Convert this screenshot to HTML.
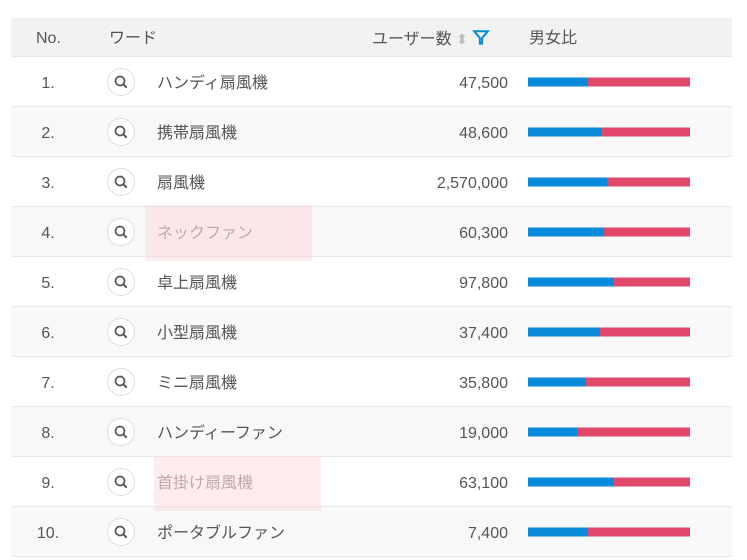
<!DOCTYPE html>
<html><head><meta charset="utf-8"><style>
body{margin:0;width:747px;height:560px;background:#fff;font-family:"Liberation Sans","Noto Sans CJK JP",sans-serif;color:#555;overflow:hidden}
.t{position:absolute;left:11px;top:18px;width:721px}
.h{height:38px;background:#f2f2f2;border-bottom:1px solid #e6e6e6;position:relative;font-size:16px}
.r{height:49px;border-bottom:1px solid #e8e8e8;position:relative;font-size:16px;background:#fff}
.r:nth-child(even){background:#f8f8f8}
.a{position:absolute;top:50%;transform:translateY(-50%);white-space:nowrap}
.x{height:20px;line-height:20px;top:calc(50% + 2px)}
.no{left:0;width:74px;text-align:center}
.ic{left:96px;width:26px;height:26px;border:1px solid #ddd;border-radius:50%;background:#fff}
.w{left:146px}
.n{right:224px;text-align:right}
.bar{left:517px;width:162px;height:9px;background:#e0476a}
.bar i{display:block;height:9px;background:#0a8ad8}
.pk{position:absolute;background:rgba(255,200,205,0.35)}
</style></head><body>
<div class="t">
<div class="h"><span class="a x" style="left:25px">No.</span><span class="a x" style="left:98px">ワード</span><span class="a x" style="left:361px">ユーザー数 <span style="color:#bbb;font-size:14px">⬍</span> <svg width="18" height="18" viewBox="0 0 16 16" style="vertical-align:-3px"><path d="M2 2h12l-5 6v5h-2v-5z" fill="none" stroke="#0a8ad8" stroke-width="1.8"/></svg></span><span class="a x" style="left:518px">男女比</span></div>
</div>
<div class="t" style="top:57px" id="b"></div>
<div class="pk" style="left:145px;top:205px;width:167px;height:56px"></div>
<div class="pk" style="left:154px;top:456px;width:167px;height:55px"></div>
<script>
var d=[["ハンディ扇風機","47,500",60],["携帯扇風機","48,600",74],["扇風機","2,570,000",79],["ネックファン","60,300",76],["卓上扇風機","97,800",86],["小型扇風機","37,400",72],["ミニ扇風機","35,800",58],["ハンディーファン","19,000",49],["首掛け扇風機","63,100",86],["ポータブルファン","7,400",60]];
var s="";d.forEach(function(x,i){var c=(i==3||i==8)?' style="color:#999"':'';
s+='<div class="r"><span class="a x no">'+(i+1)+'.</span><span class="a ic"><svg width="26" height="26" viewBox="0 0 26 26"><circle cx="12" cy="12" r="4.5" fill="none" stroke="#555" stroke-width="1.7"/><path d="M15.2 15.2l3.5 3.5" stroke="#555" stroke-width="2"/></svg></span><span class="a x w"'+c+'>'+x[0]+'</span><span class="a x n">'+x[1]+'</span><span class="a bar"><i style="width:'+x[2]+'px"></i></span></div>';});
document.getElementById("b").innerHTML=s;
</script>
</body></html>
